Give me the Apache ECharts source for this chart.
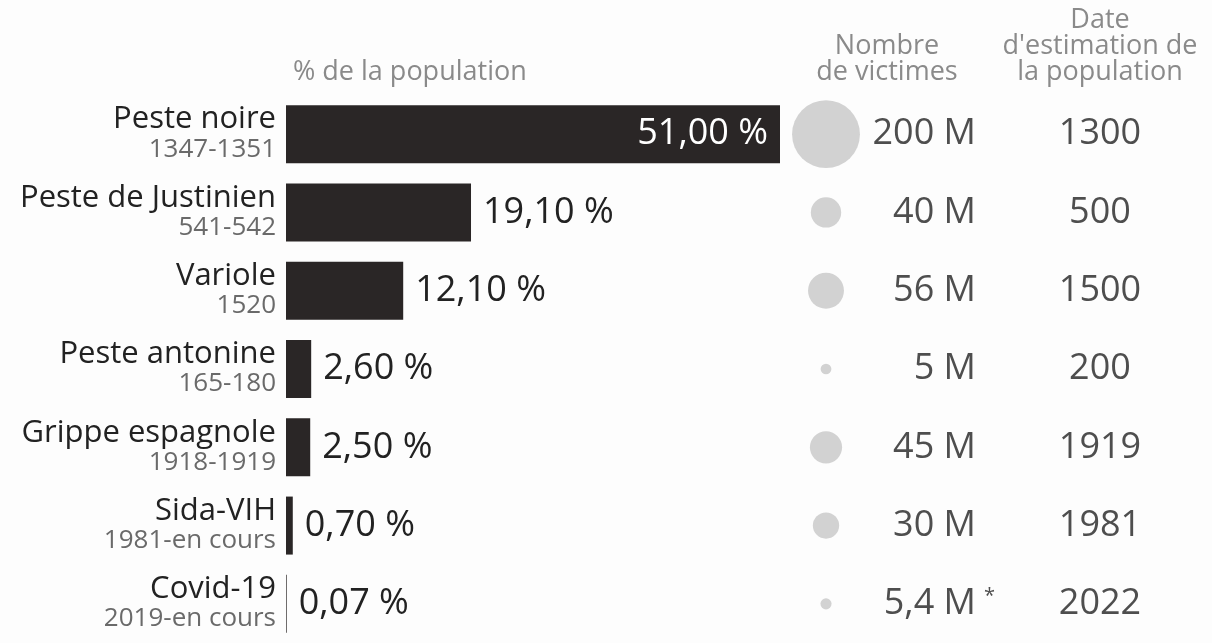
<!DOCTYPE html>
<html>
<head>
<meta charset="utf-8">
<script src="https://cdn.jsdelivr.net/npm/echarts@6/dist/echarts.min.js"></script>
<style>
  html, body { margin: 0; padding: 0; background: #fdfdfd; }
  #chart { width: 1212px; height: 643px; }
</style>
</head>
<body>
<div id="chart"></div>
<script>
const epidemics = ['Peste noire', 'Peste de Justinien', 'Variole', 'Peste antonine', 'Grippe espagnole', 'Sida-VIH', 'Covid-19'];
const periods = ['1347-1351', '541-542', '1520', '165-180', '1918-1919', '1981-en cours', '2019-en cours'];
const popShare = [51.00, 19.10, 12.10, 2.60, 2.50, 0.70, 0.07];
const victims = [200, 40, 56, 5, 45, 30, 5.4];
const victimLabels = ['200 M', '40 M', '56 M', '5 M', '45 M', '30 M', '5,4 M'];
const victimNotes = ['', '', '', '', '', '', '*'];
const estimateYears = ['1300', '500', '1500', '200', '1919', '1981', '2022'];

const FONT = '"Open Sans", "Noto Sans", sans-serif';
const BAR = '#2a2626';
const GREY_TXT = '#8a8a8a';

// horizontal positions of the right-hand columns inside the second grid (0..432)
const COL_BUBBLE = 46, COL_VICTIMS = 196, COL_DATE = 320;

const chart = echarts.init(document.getElementById('chart'));

const fmtPct = v => v.toFixed(2).replace('.', ',') + ' %';

chart.setOption({
  backgroundColor: '#fdfdfd',
  animation: false,
  textStyle: { fontFamily: FONT },
  grid: [
    { left: 286, width: 494, top: 95, height: 560 },
    { left: 780, width: 432, top: 95, height: 560 }
  ],
  xAxis: [
    { gridIndex: 0, type: 'value', min: 0, max: 51, show: false },
    { gridIndex: 1, type: 'value', min: 0, max: 432, show: false }
  ],
  yAxis: [
    {
      gridIndex: 0, type: 'category', inverse: true, data: epidemics,
      axisLine: { show: false }, axisTick: { show: false },
      axisLabel: {
        margin: 10,
        align: 'right',
        formatter: (v, i) => '{n|' + v + '}\n{y|' + periods[i] + '}',
        rich: {
          n: { fontFamily: FONT, fontSize: 31, color: '#222', align: 'right', lineHeight: 30 },
          y: { fontFamily: FONT, fontSize: 26, color: '#6a6a6a', align: 'right', lineHeight: 29 }
        }
      }
    },
    { gridIndex: 1, type: 'category', inverse: true, data: epidemics, show: false }
  ],
  graphic: [
    { type: 'text', x: 293, y: 72, style: { text: '% de la population', font: '27px ' + FONT, fill: GREY_TXT, align: 'left', verticalAlign: 'middle' } },
    { type: 'text', x: 887, y: 59, style: { text: 'Nombre\nde victimes', font: '27px ' + FONT, fill: GREY_TXT, align: 'center', verticalAlign: 'middle', lineHeight: 26 } },
    { type: 'text', x: 1100, y: 46, style: { text: 'Date\nd\'estimation de\nla population', font: '27px ' + FONT, fill: GREY_TXT, align: 'center', verticalAlign: 'middle', lineHeight: 26 } }
  ],
  series: [
    {
      type: 'bar', xAxisIndex: 0, yAxisIndex: 0,
      barWidth: 58,
      itemStyle: { color: BAR },
      data: popShare.map((v, i) => i === 0
        ? { value: v, label: { position: 'insideRight', color: '#fff', distance: 12 } }
        : { value: v }),
      label: {
        show: true, position: 'right', distance: 12,
        fontFamily: FONT, fontSize: 36, color: '#222',
        formatter: p => fmtPct(p.value)
      }
    },
    {
      type: 'scatter', xAxisIndex: 1, yAxisIndex: 1,
      symbol: 'circle',
      symbolSize: v => 4.8 * Math.sqrt(v[2]),
      itemStyle: { color: '#d2d2d2', opacity: 1 },
      data: victims.map((v, i) => [COL_BUBBLE, epidemics[i], v])
    },
    {
      type: 'scatter', xAxisIndex: 1, yAxisIndex: 1,
      symbolSize: 0,
      label: {
        show: true, position: 'left', distance: 0,
        fontFamily: FONT, fontSize: 36, color: '#222',
        formatter: p => victimLabels[p.dataIndex]
      },
      data: victimLabels.map((v, i) => [COL_VICTIMS, epidemics[i]])
    },
    {
      type: 'scatter', xAxisIndex: 1, yAxisIndex: 1,
      symbolSize: 0,
      label: {
        show: true, position: 'right', distance: 8, offset: [0, -8],
        fontFamily: FONT, fontSize: 20, color: '#222',
        formatter: p => victimNotes[p.dataIndex]
      },
      data: victimNotes.map((v, i) => [COL_VICTIMS, epidemics[i]])
    },
    {
      type: 'scatter', xAxisIndex: 1, yAxisIndex: 1,
      symbolSize: 0,
      label: {
        show: true, position: 'inside',
        fontFamily: FONT, fontSize: 36, color: '#222',
        formatter: p => estimateYears[p.dataIndex]
      },
      data: estimateYears.map((v, i) => [COL_DATE, epidemics[i]])
    }
  ]
});
</script>
</body>
</html>
